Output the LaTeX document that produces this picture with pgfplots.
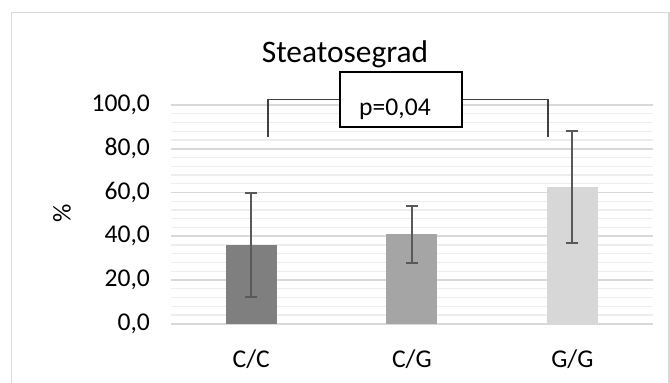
\documentclass[border=0pt]{standalone}
\usepackage{fontspec}
\setmainfont{Carlito}
\usepackage{pgfplots}
\pgfplotsset{compat=1.18}
\definecolor{barA}{HTML}{7F7F7F}
\definecolor{barB}{HTML}{A5A5A5}
\definecolor{barC}{HTML}{D7D7D7}
\definecolor{errc}{HTML}{595959}
\definecolor{majg}{HTML}{D9D9D9}
\definecolor{ming}{HTML}{EDEDED}
\definecolor{frame}{HTML}{D9D9D9}
\definecolor{brk}{HTML}{404040}
\begin{document}
\begin{tikzpicture}
\useasboundingbox (0,0) rectangle (335pt,-191.5pt);
\fill[white] (0,0) rectangle (335pt,-191.5pt);
\draw[color=frame, line width=0.7pt] (5.85pt,-191.5pt) -- (5.85pt,-6.35pt) -- (334.5pt,-6.35pt) -- (334.5pt,-191.5pt);
\begin{axis}[
  at={(85.5pt,-161.85pt)}, anchor=south west,
  scale only axis, width=240.85pt, height=109.35pt,
  xmin=-0.5, xmax=2.5, ymin=0, ymax=100,
  axis line style={draw=none},
  tick style={draw=none},
  ytick={0,20,40,60,80,100},
  minor y tick num=4,
  ymajorgrids, yminorgrids,
  major grid style={color=majg, line width=0.85pt},
  minor grid style={color=ming, line width=0.65pt},
  xtick={0,1,2},
  xticklabels={C/C,C/G,G/G},
  /pgf/number format/assume math mode=true,
  yticklabel={\pgfmathprintnumber[fixed,fixed zerofill,precision=1,use comma]{\tick}},
  ticklabel style={font=\fontsize{12.8}{15}\selectfont, text=black},
  yticklabel style={xshift=-7pt},
  xticklabel style={yshift=-5pt},
  ybar, bar width=25.5pt,
]
\addplot[fill=barA, draw=none, bar shift=0pt,
  error bars/.cd, y dir=both, y explicit,
  error bar style={color=errc, line width=1pt},
  error mark options={rotate=90, color=errc, line width=1pt, mark size=3pt}]
  coordinates {(0,35.9) +- (0,23.7)};
\addplot[fill=barB, draw=none, bar shift=0pt,
  error bars/.cd, y dir=both, y explicit,
  error bar style={color=errc, line width=1pt},
  error mark options={rotate=90, color=errc, line width=1pt, mark size=3pt}]
  coordinates {(1,40.9) +- (0,13.0)};
\addplot[fill=barC, draw=none, bar shift=0pt,
  error bars/.cd, y dir=both, y explicit,
  error bar style={color=errc, line width=1pt},
  error mark options={rotate=90, color=errc, line width=1pt, mark size=3pt}]
  coordinates {(2,62.7) +- (0,25.6)};
\end{axis}
% y label
\node[rotate=90, font=\fontsize{12.8}{15}\selectfont] at (31pt,-106.5pt) {\%};
% title
\node[anchor=base, font=\fontsize{15.7}{18}\selectfont, inner sep=0pt] at (172.5pt,-31.35pt) {Steatosegrad};
% bracket
\draw[color=brk, line width=0.65pt] (134pt,-68.5pt) -- (134pt,-49.65pt) -- (274pt,-49.65pt) -- (274pt,-68.5pt);
% box
\draw[black, line width=1pt, fill=white] (170pt,-35.85pt) rectangle (231pt,-63.35pt);
\node[anchor=base, font=\fontsize{12.8}{15}\selectfont, inner sep=0pt] at (197.5pt,-58pt) {p=0,04};
\end{tikzpicture}
\end{document}
